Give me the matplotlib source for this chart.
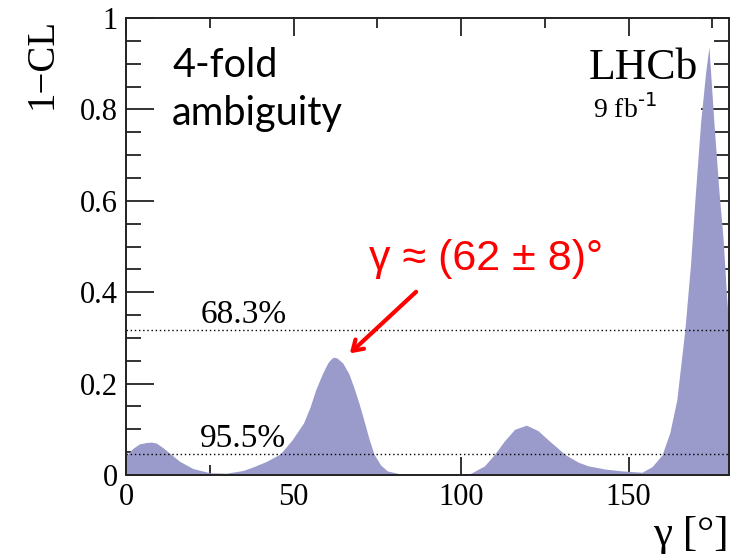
import matplotlib
matplotlib.use("Agg")
import matplotlib.pyplot as plt
from matplotlib.ticker import MultipleLocator

# ---- data ----
gamma = [0, 2, 4, 6, 7.5, 9, 11, 13, 16, 20, 25, 30, 35, 38, 42, 46, 49.5,
         53, 55, 56.6, 58.7, 60.2, 61.2, 62, 63, 64.7, 66.5, 68, 69.5, 71,
         72.5, 74, 76, 78, 82, 90, 100, 103, 107, 110, 113, 116, 119.5, 123,
         126, 129, 131, 135, 138, 143, 148, 152, 154, 157, 160, 162.3, 164.4,
         166.8, 168.5, 169.8, 171.5, 173, 174, 175.5, 177, 178.2, 179.2, 180]
one_minus_cl = [0.042, 0.058, 0.068, 0.071, 0.072, 0.070, 0.060, 0.048,
                0.030, 0.014, 0.005, 0.004, 0.010, 0.018, 0.030, 0.046, 0.076,
                0.114, 0.150, 0.186, 0.223, 0.245, 0.254, 0.258, 0.256, 0.245,
                0.222, 0.192, 0.158, 0.120, 0.080, 0.046, 0.022, 0.009, 0.002,
                0.000, 0.000, 0.004, 0.020, 0.045, 0.075, 0.100, 0.109, 0.097,
                0.077, 0.058, 0.045, 0.028, 0.020, 0.013, 0.009, 0.007, 0.006,
                0.018, 0.044, 0.092, 0.164, 0.317, 0.460, 0.600, 0.770, 0.880,
                0.937, 0.770, 0.620, 0.520, 0.400, 0.317]
cl_levels = [0.317, 0.045]
cl_labels = ["68.3%", "95.5%"]
x_ticks = [0, 50, 100, 150]
y_ticks = [0, 0.2, 0.4, 0.6, 0.8, 1]
y_tick_labels = ["0", "0.2", "0.4", "0.6", "0.8", "1"]

serif = ["Liberation Serif", "DejaVu Serif"]
sans = ["Lato", "DejaVu Sans"]
arial = ["Liberation Sans", "DejaVu Sans"]

fig = plt.figure(figsize=(7.39, 5.56), dpi=100)
ax = fig.add_axes([0.1705, 0.1457, 0.8160, 0.8219])

ax.fill_between(gamma, 0, one_minus_cl, color="#9a9acb", lw=0, zorder=2)

for lvl, lab in zip(cl_levels, cl_labels):
    ax.axhline(lvl, color="black", lw=1.0, ls=(0, (1, 2)), zorder=3)
    ax.text(22.2, lvl + 0.016, lab, fontsize=24, family=serif, ha="left",
            va="baseline", zorder=4)

ax.set_xlim(0, 180)
ax.set_ylim(0, 1)
ax.set_xticks(x_ticks)
ax.set_yticks(y_ticks)
ax.set_yticklabels(y_tick_labels)
ax.xaxis.set_minor_locator(MultipleLocator(25))
ax.yaxis.set_minor_locator(MultipleLocator(0.05))
for lbl in ax.get_xticklabels() + ax.get_yticklabels():
    lbl.set_family(serif)
    lbl.set_fontsize(22)
ax.tick_params(axis="both", which="both", direction="in", top=True, right=True,
               width=1.3, color="#222222")
ax.tick_params(axis="x", which="major", length=13, pad=6)
ax.tick_params(axis="x", which="minor", length=7)
ax.tick_params(axis="y", which="major", length=20, pad=6)
ax.tick_params(axis="y", which="minor", length=11)
for sp in ax.spines.values():
    sp.set_linewidth(1.4)
    sp.set_color("#222222")
    sp.set_zorder(5)

ax.set_ylabel("1\u2212CL", fontsize=28, family=serif, loc="top", labelpad=14)
ax.set_xlabel("\u03b3 [\u00b0]", fontsize=31, family=serif, loc="right",
              labelpad=2)

ax.text(0.0763, 0.871, "4-fold", transform=ax.transAxes,
        fontsize=28.5, family=sans, ha="left", va="baseline")
ax.text(0.0763, 0.766, "ambiguity", transform=ax.transAxes,
        fontsize=28.5, family=sans, ha="left", va="baseline")
ax.text(0.9486, 0.8665, "LHCb", transform=ax.transAxes, fontsize=31.5,
        family=serif, ha="right", va="baseline")
ax.text(0.774, 0.781, "9 fb$^{\\text{-1}}$", transform=ax.transAxes,
        fontsize=20, family=serif, ha="left", va="baseline")

ax.text(72.5, 0.449, "\u03b3 \u2248 (62 \u00b1 8)\u00b0", fontsize=31,
        family=arial, color="red", ha="left", va="baseline")
ax.annotate("", xy=(66.2, 0.262), xytext=(87.2, 0.405),
            arrowprops=dict(arrowstyle="->,head_length=0.7,head_width=0.45",
                            color="red", lw=3))

fig.savefig("out.png", dpi=100)
